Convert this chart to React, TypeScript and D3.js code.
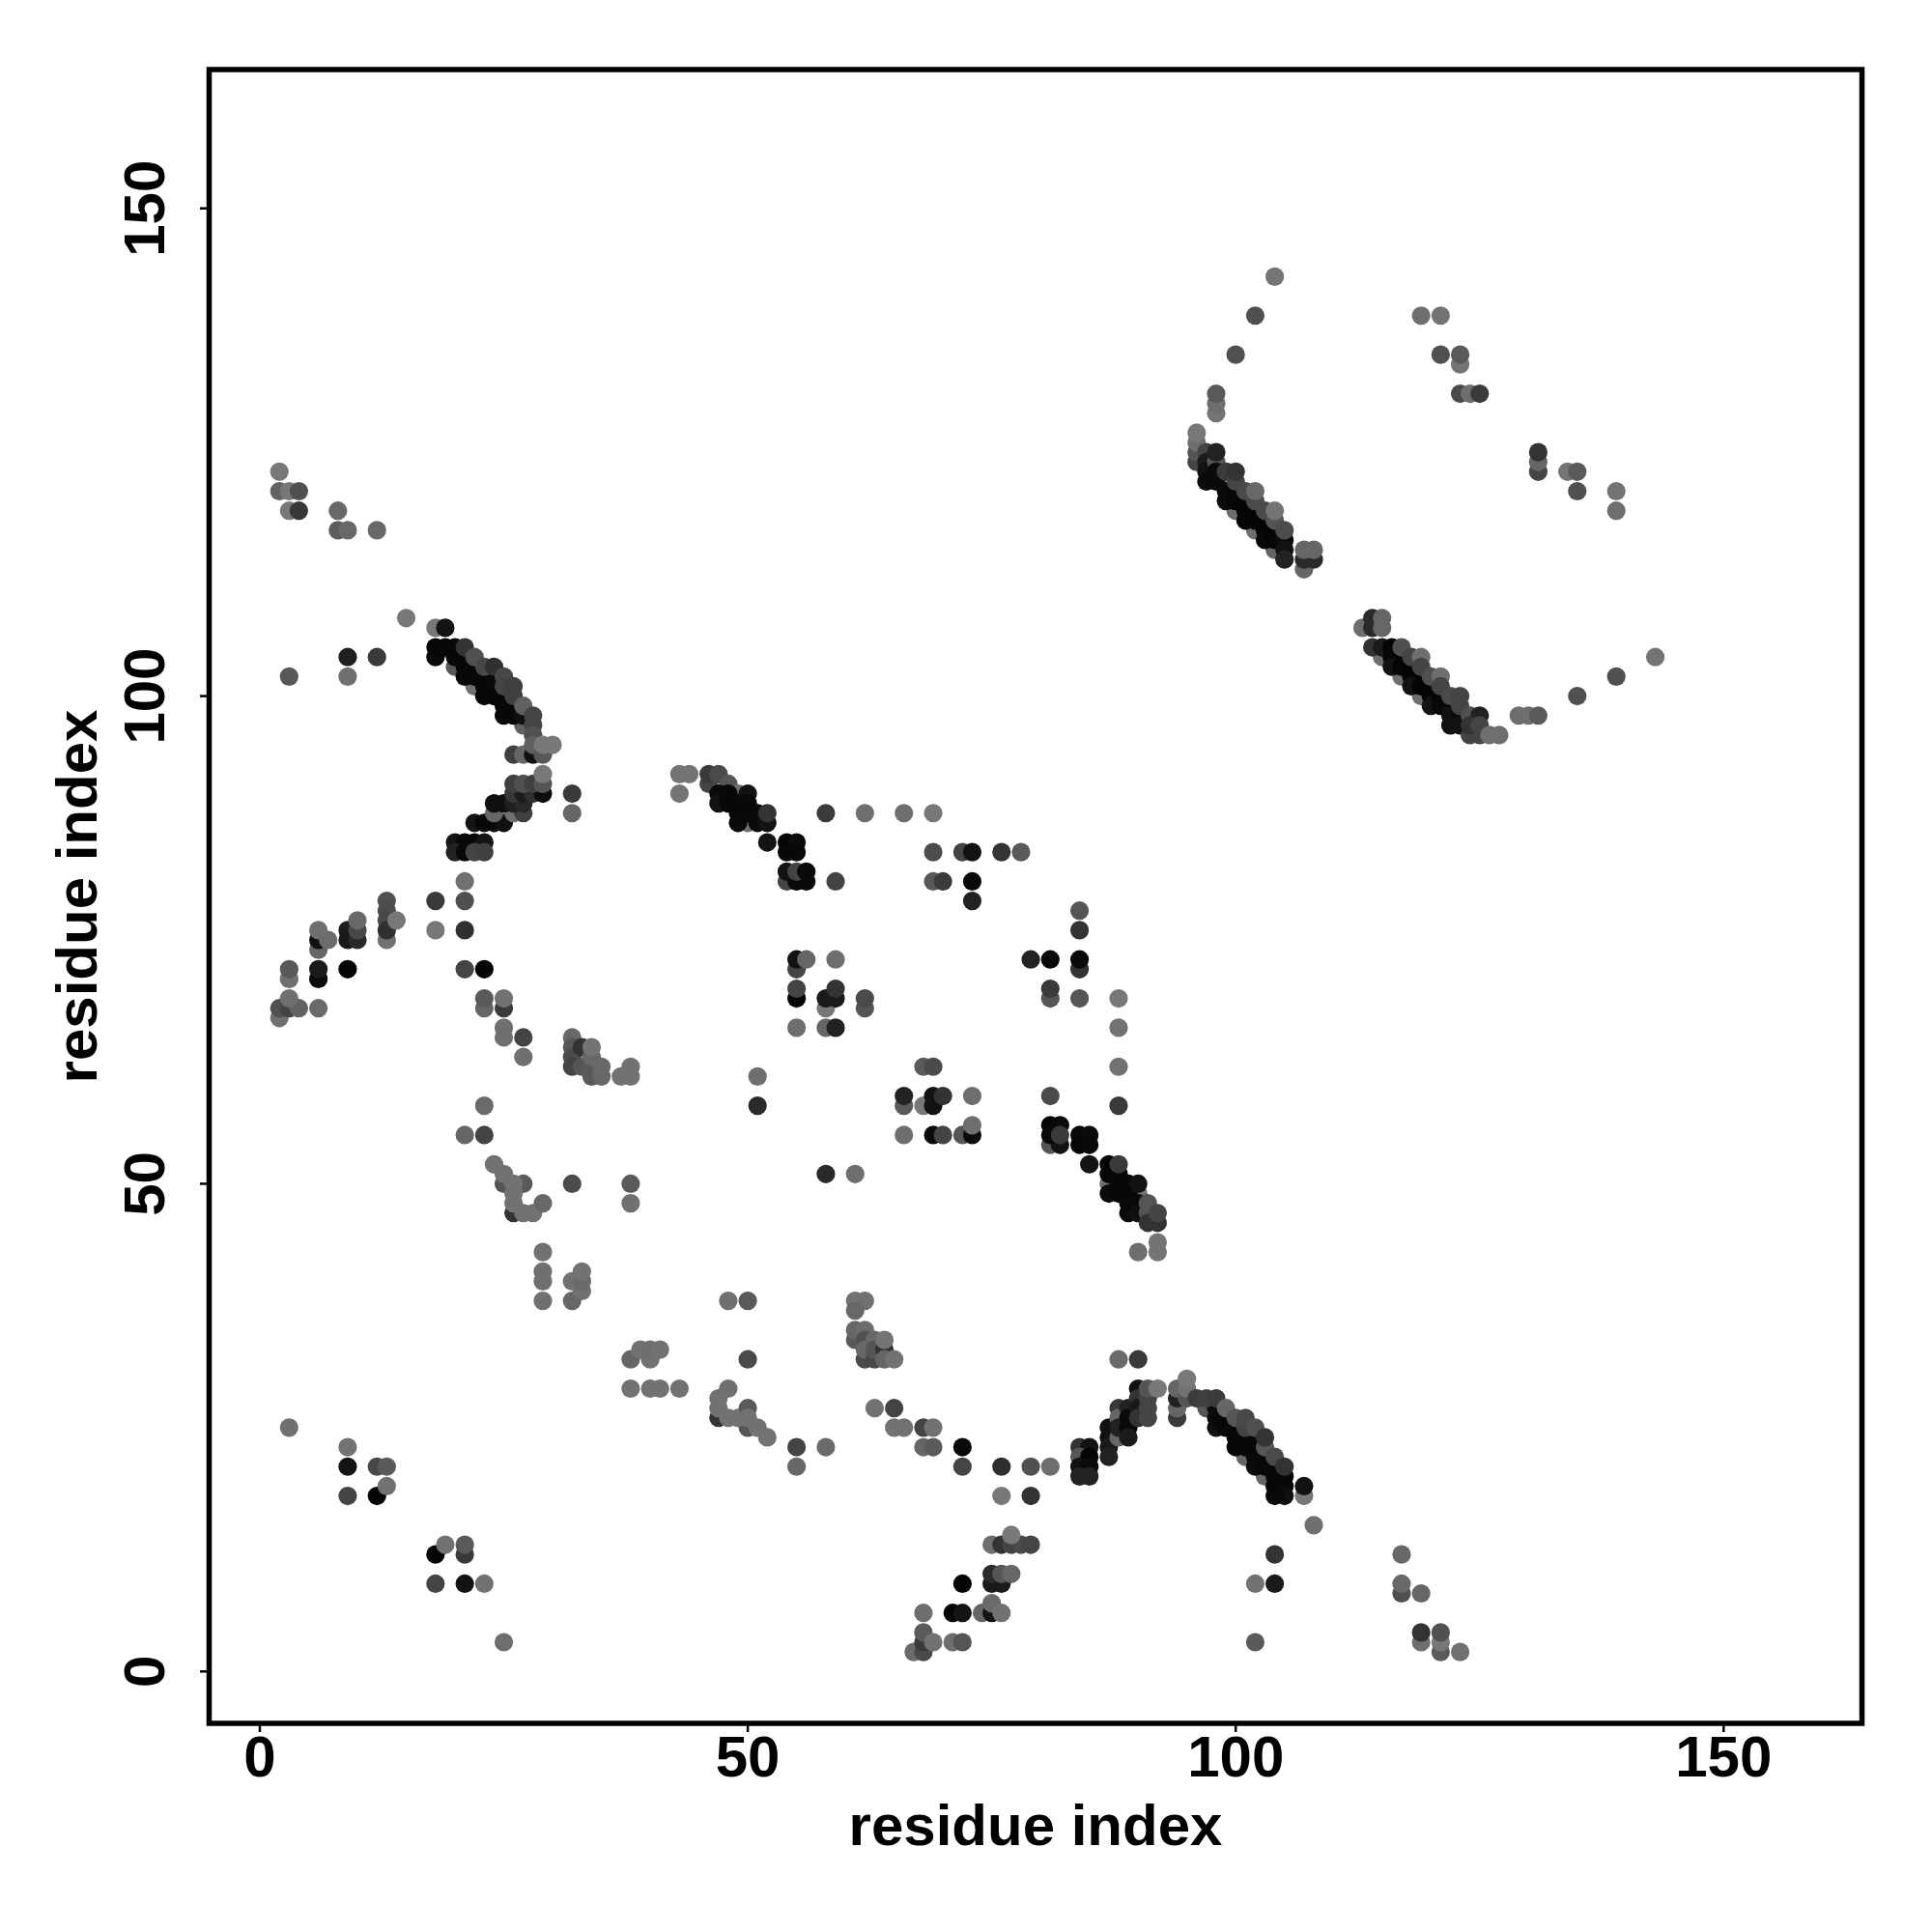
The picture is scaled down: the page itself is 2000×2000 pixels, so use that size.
import React from "react";
import * as d3 from "d3";

type P = [number, number, number];

const xTicks = [0, 50, 100, 150];
const yTicks = [0, 50, 100, 150];
const axisTitle = "residue index";

// each point: residue x, residue y, grey level
const topLeft: P[] = [
  [2,123,0x78],[2,121,0x62],[3,121,0x78],[4,121,0x50],[3,119,0x78],[4,119,0x38],[8,119,0x68],[8,117,0x5c],[9,117,0x68],[12,117,0x68],
  [15,108,0x78],[18,107,0x78],[19,107,0x14],[3,102,0x58],[9,104,0x20],[12,104,0x3a],[9,102,0x70],
];
const chainA: P[] = [
  [20,103,0x58],[22,101,0x70],[27,97,0x60],
  [18,105,0x08],[18,104,0x08],[19,105,0x08],[20,105,0x08],[20,104,0x08],[21,104,0x08],[21,103,0x08],[21,102,0x08],[22,103,0x08],[22,102,0x08],[23,102,0x08],[23,101,0x08],[23,100,0x08],[24,102,0x08],[24,101,0x08],[24,100,0x08],[25,100,0x08],[25,99,0x08],[25,98,0x08],[26,99,0x08],[26,98,0x08],[27,98,0x10],
  [21,105,0x33],[22,104,0x50],[23,103,0x48],[24,103,0x30],[25,102,0x48],[25,101,0x44],[26,101,0x40],[26,100,0x40],[27,99,0x60],[28,98,0x44],[28,97,0x44],[28,96,0x50],
  [26,94,0x40],[27,94,0x66],[28,94,0x10],[28,95,0x60],[29,94,0x58],[29,95,0x78],[30,95,0x78],
];
const chainB: P[] = [
  [20,85,0x14],[21,85,0x08],[22,85,0x08],[23,85,0x14],[20,84,0x22],[21,84,0x08],[22,84,0x44],[23,84,0x40],
  [22,87,0x14],[23,87,0x08],[24,87,0x08],[25,87,0x10],
  [24,88,0x66],[26,88,0x70],[27,88,0x40],
  [24,89,0x10],[25,89,0x10],[26,89,0x20],[27,89,0x28],
  [26,90,0x38],[27,90,0x1c],[28,90,0x30],[29,90,0x0c],
  [26,91,0x40],[27,91,0x50],[28,91,0x40],[29,91,0x55],[29,92,0x78],
  [32,90,0x3a],[32,88,0x66],
];
const leftArm: P[] = [
  [21,81,0x70],[13,79,0x50],[18,79,0x3a],[21,79,0x50],
  [13,75,0x70],[13,78,0x4c],[13,77,0x48],[13,76,0x30],[14,77,0x78],
  [18,76,0x78],[21,76,0x30],
  [9,76,0x1c],[9,75,0x18],[10,75,0x28],[10,76,0x48],[10,77,0x68],
  [6,74,0x66],[6,75,0x10],[6,76,0x70],[7,75,0x6c],
  [3,71,0x70],[3,72,0x58],[6,71,0x0a],[6,72,0x1a],[9,72,0x05],
  [21,72,0x44],[23,72,0x05],
  [2,67,0x70],[2,68,0x50],[3,68,0x44],[4,68,0x62],[3,69,0x70],[6,68,0x6a],
  [23,68,0x66],[23,69,0x5a],[25,68,0x3a],[25,69,0x72],
  [25,65,0x70],[25,66,0x70],[27,65,0x44],[27,63,0x70],
];
const midLeft: P[] = [
  [32,65,0x68],[32,64,0x58],[32,63,0x4c],[32,62,0x44],[33,62,0x55],[33,64,0x33],[34,61,0x58],[34,62,0x58],[34,63,0x66],[34,64,0x74],[35,61,0x66],[35,62,0x68],
  [37,61,0x72],[38,61,0x72],[38,62,0x72],
  [23,58,0x6a],[21,55,0x66],[23,55,0x44],
  [26,47,0x33],[25,50,0x55],[24,52,0x72],[25,51,0x72],[27,50,0x5a],[26,50,0x72],[26,49,0x72],[26,48,0x72],[27,47,0x72],[28,47,0x72],[29,48,0x68],
  [32,50,0x4c],[38,50,0x5a],[38,48,0x70],
  [29,43,0x70],[29,41,0x70],[29,40,0x70],[29,38,0x70],[32,38,0x66],[32,40,0x72],[33,39,0x72],[33,40,0x6a],[33,41,0x72],
];
const lowLeft: P[] = [
  [38,32,0x66],[40,32,0x72],[39,33,0x72],[40,33,0x6e],[41,33,0x72],[38,29,0x72],[40,29,0x72],[41,29,0x72],[43,29,0x72],
  [3,25,0x70],[9,23,0x72],[9,21,0x14],[12,21,0x48],[13,21,0x5a],[12,18,0x05],[13,19,0x72],[9,18,0x44],
  [18,12,0x05],[19,13,0x72],[21,12,0x3a],[21,13,0x5a],[18,9,0x44],[21,9,0x12],[23,9,0x72],[25,3,0x6e],
];
const midBottom: P[] = [
  [48,38,0x70],[50,38,0x5a],[50,32,0x4a],
  [61,38,0x72],[62,38,0x72],[61,37,0x68],[61,34,0x5a],[61,35,0x66],[62,35,0x6c],[62,34,0x50],[63,34,0x68],[62,32,0x4a],[62,33,0x66],[63,32,0x48],[63,33,0x55],[64,33,0x33],[64,32,0x66],[64,34,0x74],[65,32,0x72],
  [47,26,0x33],[47,27,0x72],[47,28,0x72],[48,29,0x70],[50,25,0x55],[48,26,0x72],[49,26,0x72],[50,27,0x5a],[50,26,0x72],[51,25,0x72],[52,24,0x72],
  [55,23,0x44],[55,21,0x66],[58,23,0x6a],
  [63,27,0x72],[65,27,0x44],[65,25,0x72],[66,25,0x72],[68,25,0x44],[69,25,0x72],[68,23,0x66],[69,23,0x5a],
  [72,23,0x0a],[72,21,0x44],[76,21,0x2e],[79,21,0x50],[81,21,0x6e],[76,18,0x78],[79,18,0x33],
  [75,13,0x6e],[76,13,0x33],[77,13,0x44],[78,13,0x4a],[79,13,0x44],[77,14,0x78],
  [75,9,0x1a],[76,9,0x1a],[75,10,0x2a],[76,10,0x55],[77,10,0x66],[72,9,0x05],
  [74,6,0x66],[75,6,0x12],[75,7,0x6a],[76,6,0x72],[71,6,0x05],[72,6,0x14],[68,6,0x6e],
  [67,2,0x6a],[68,2,0x4a],[68,3,0x3a],[68,4,0x5a],[69,3,0x72],[71,3,0x6e],[72,3,0x55],
];
const arch: P[] = [
  [88,32,0x6a],[90,32,0x3a],
  [84,23,0x33],[85,23,0x12],[84,22,0x55],[85,22,0x06],[84,21,0x12],[85,21,0x0a],[84,20,0x22],[85,20,0x22],
  [87,25,0x12],[87,24,0x12],[87,23,0x1a],[87,22,0x22],
  [88,27,0x3a],[88,26,0x66],[88,24,0x66],[88,25,0x22],
  [89,27,0x22],[89,26,0x0a],[89,25,0x0a],[89,24,0x1a],
  [90,29,0x12],[90,28,0x33],[90,27,0x1a],[90,26,0x33],
  [91,26,0x44],[91,27,0x44],[91,28,0x44],[91,29,0x55],[92,29,0x78],
  [94,26,0x3a],[94,27,0x66],[94,28,0x22],[94,29,0x66],[95,28,0x55],[95,29,0x72],[95,30,0x78],
  [101,22,0x66],[103,20,0x66],[97,27,0x55],
  [98,25,0x10],[98,26,0x0a],[98,27,0x0a],[99,26,0x08],[99,25,0x08],[100,25,0x08],[100,24,0x08],[100,23,0x08],[101,24,0x08],[101,23,0x08],[102,24,0x08],[102,23,0x08],[102,22,0x08],[102,21,0x0a],[103,22,0x08],[103,21,0x08],[104,21,0x08],[104,20,0x08],[104,19,0x08],[105,20,0x08],[105,19,0x08],[105,18,0x10],[104,18,0x08],
  [96,28,0x3c],[97,28,0x40],[98,28,0x3a],[99,27,0x66],[100,26,0x55],[101,25,0x44],[101,26,0x48],[102,25,0x50],[103,23,0x55],[103,24,0x33],[104,22,0x4a],[105,21,0x33],
  [107,18,0x78],[107,19,0x12],[108,15,0x70],
  [104,12,0x33],[102,9,0x72],[104,9,0x1a],[102,3,0x5a],
  [117,12,0x68],[117,8,0x50],[117,9,0x68],[119,8,0x66],[119,3,0x6e],[119,4,0x33],[121,2,0x5a],[121,3,0x78],[121,4,0x50],[123,2,0x70],
];
const centre: P[] = [
  [43,92,0x74],[44,92,0x74],[43,90,0x74],
  [46,91,0x44],[46,92,0x3a],[47,92,0x4a],[48,91,0x55],
  [49,90,0x6e],[50,87,0x70],
  [47,90,0x0a],[47,89,0x12],[48,90,0x08],[48,89,0x08],[49,89,0x08],[49,88,0x08],[49,87,0x0a],[50,90,0x12],[50,89,0x08],[50,88,0x08],[51,88,0x0a],[51,87,0x0a],[52,87,0x12],[52,88,0x33],[52,85,0x14],
  [54,85,0x04],[55,85,0x0c],[54,84,0x08],[55,84,0x08],
  [54,81,0x44],[55,81,0x0a],[56,81,0x0a],[54,82,0x12],[55,82,0x44],[56,82,0x0a],[59,81,0x44],
  [58,88,0x3a],[62,88,0x6e],[66,88,0x6e],[69,88,0x78],
  [69,84,0x4c],[72,84,0x44],[73,84,0x12],[76,84,0x33],[78,84,0x5a],
  [69,81,0x58],[70,81,0x3a],[73,81,0x0a],[73,79,0x22],
  [84,78,0x55],[84,76,0x33],[79,73,0x22],[81,73,0x0a],[84,72,0x33],[84,73,0x0a],
  [81,69,0x55],[81,70,0x3a],[84,69,0x55],[88,69,0x78],[88,66,0x72],[88,62,0x72],
  [55,72,0x44],[55,73,0x12],[56,73,0x66],[59,73,0x6e],
  [55,69,0x05],[55,70,0x44],[58,68,0x78],[58,69,0x1a],[59,69,0x1a],[59,70,0x33],[62,68,0x55],[62,69,0x4a],
  [55,66,0x6e],[58,66,0x66],[59,66,0x22],
  [51,61,0x6e],[51,58,0x2a],
  [68,62,0x5a],[69,62,0x4a],
  [66,58,0x5a],[66,59,0x22],[68,58,0x78],[69,59,0x12],[69,58,0x12],[70,59,0x33],[73,59,0x6e],
  [66,55,0x6e],[69,55,0x0a],[70,55,0x44],[72,55,0x55],[73,55,0x0a],[73,56,0x6e],
  [81,59,0x4a],[88,58,0x3a],
  [81,54,0x55],[82,54,0x12],[81,56,0x05],[82,56,0x0a],[81,55,0x0a],[82,55,0x3a],
  [84,55,0x08],[85,55,0x0c],[84,54,0x08],[85,54,0x08],[85,52,0x14],
  [58,51,0x2a],[61,51,0x6e],
  [87,50,0x6e],[90,49,0x72],
  [87,52,0x05],[87,51,0x05],[87,49,0x0a],[88,51,0x08],[88,50,0x08],[88,49,0x08],[89,50,0x08],[89,49,0x08],[89,48,0x08],[89,47,0x0a],[90,48,0x08],[90,47,0x10],[88,52,0x3a],[90,50,0x12],
  [91,47,0x55],[91,46,0x33],[92,46,0x33],[91,48,0x55],[92,47,0x44],
  [92,44,0x74],[92,43,0x74],[90,43,0x6e],
];
const upperRight: P[] = [
  [104,143,0x74],[102,139,0x50],[100,135,0x50],[98,129,0x74],[98,130,0x6e],[98,131,0x5a],
  [96,124,0x44],[96,125,0x55],[96,126,0x6e],[96,127,0x78],[97,125,0x44],
  [100,119,0x6e],[102,117,0x6e],[104,115,0x66],
  [97,124,0x1a],[97,123,0x12],[97,122,0x0a],[98,124,0x55],[98,123,0x0a],[98,122,0x0a],[99,121,0x0a],[99,120,0x0a],[100,121,0x06],[100,120,0x06],[101,120,0x04],[101,119,0x04],[101,118,0x06],[102,119,0x04],[102,118,0x04],[103,118,0x04],[103,117,0x04],[103,116,0x08],[104,117,0x04],[104,116,0x06],[105,116,0x0a],[105,115,0x12],[105,114,0x22],
  [98,125,0x22],[99,123,0x3a],[100,122,0x44],[100,123,0x33],[101,121,0x4a],[102,120,0x4a],[102,121,0x68],[103,119,0x4a],[104,118,0x55],[104,119,0x74],[105,117,0x4c],
  [107,113,0x66],[107,114,0x2a],[108,114,0x2a],[107,115,0x66],[108,115,0x66],
  [119,139,0x6e],[121,139,0x74],[121,135,0x50],[123,134,0x74],[123,135,0x5a],[123,131,0x4a],[124,131,0x6e],[125,131,0x3a],
  [131,123,0x44],[131,124,0x66],[131,125,0x33],[134,123,0x74],[135,123,0x5a],[135,121,0x50],[139,121,0x74],[139,119,0x6e],
];
const lowerRight: P[] = [
  [113,107,0x6e],[114,107,0x2a],[114,108,0x2a],[115,107,0x66],[115,108,0x66],
  [115,104,0x6e],[117,102,0x6e],[119,100,0x6e],
  [114,105,0x33],[115,105,0x1a],[116,105,0x05],[116,104,0x06],[117,104,0x04],[116,103,0x12],[117,103,0x06],[118,103,0x04],[118,102,0x04],[119,102,0x04],[118,101,0x12],[119,101,0x04],[120,101,0x04],[120,100,0x04],[120,99,0x12],[121,100,0x04],[121,99,0x08],[122,99,0x08],[122,98,0x12],[122,97,0x12],[123,98,0x0a],[123,97,0x12],
  [117,105,0x50],[118,104,0x44],[119,104,0x6e],[119,103,0x44],[120,102,0x50],[121,102,0x6e],[121,101,0x44],[122,100,0x4a],[123,100,0x44],[123,99,0x44],[124,98,0x50],[125,98,0x22],
  [124,96,0x44],[125,96,0x44],[124,97,0x33],[125,97,0x44],[126,96,0x6e],[127,96,0x6e],
  [129,98,0x6e],[130,98,0x6e],[131,98,0x5a],[135,100,0x50],[139,102,0x50],[143,104,0x74],
];

const clusters = [topLeft, chainA, chainB, leftArm, midLeft, lowLeft, midBottom, arch, centre, upperRight, lowerRight];

const x = d3.scaleLinear().domain([0, 150]).range([269, 1784.3]);
const y = d3.scaleLinear().domain([0, 150]).range([1730.3, 215.7]);
const FONT = "'Liberation Sans', Arial, sans-serif";

export default function App() {
  const points = clusters.flat();
  return (
    <svg width={2000} height={2000} style={{ position: "absolute", left: 0, top: 0, background: "#fff" }}>
      {points.map(([a, b, g], i) => (
        <circle key={i} cx={x(a)} cy={y(b)} r={9.6} fill={d3.rgb(g, g, g).formatHex()} />
      ))}
      <rect x={216.5} y={72} width={1711} height={1712} fill="none" stroke="#000" strokeWidth={5.5} />
      {xTicks.map((t) => (
        <g key={t}>
          <line x1={x(t)} x2={x(t)} y1={1784} y2={1793} stroke="#000" strokeWidth={2.5} />
          <text x={x(t)} y={1839} textAnchor="middle" fontFamily={FONT} fontWeight="bold" fontSize={60}>{t}</text>
        </g>
      ))}
      {yTicks.map((t) => (
        <g key={t}>
          <line x1={207} x2={216} y1={y(t)} y2={y(t)} stroke="#000" strokeWidth={2.5} />
          <text transform={`translate(170,${y(t)}) rotate(-90)`} textAnchor="middle" fontFamily={FONT} fontWeight="bold" fontSize={60}>{t}</text>
        </g>
      ))}
      <text x={1072} y={1910} textAnchor="middle" fontFamily={FONT} fontWeight="bold" fontSize={60}>{axisTitle}</text>
      <text transform="translate(100,928) rotate(-90)" textAnchor="middle" fontFamily={FONT} fontWeight="bold" fontSize={60}>{axisTitle}</text>
    </svg>
  );
}
